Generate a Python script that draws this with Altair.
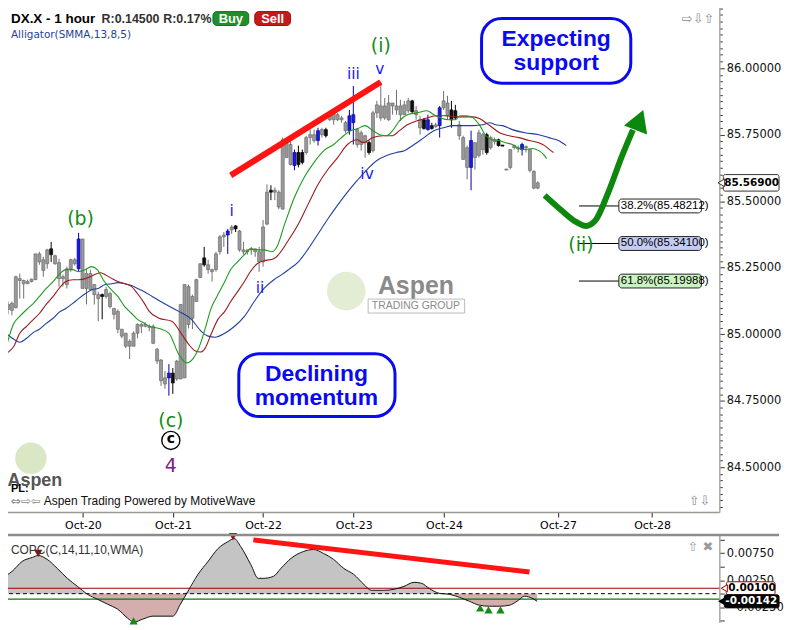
import altair as alt
import pandas as pd

# ---------------- data ----------------
opens = [85.093, 85.116, 85.100, 85.209, 85.202, 85.190, 85.198, 85.205, 85.302, 85.280,
         85.265, 85.321, 85.295, 85.269, 85.209, 85.187, 85.246, 85.280, 85.246, 85.358,
         85.172, 85.228, 85.187, 85.149, 85.149, 85.142, 85.153, 85.097, 85.086, 85.019,
         85.004, 84.955, 84.955, 85.004, 85.037, 85.030, 85.030, 85.030, 84.944, 84.903,
         84.836, 84.836, 84.854, 84.832, 84.832, 84.836, 85.179, 85.060, 85.123, 85.213,
         85.287, 85.261, 85.243, 85.243, 85.310, 85.366, 85.373, 85.392, 85.407, 85.388,
         85.317, 85.310, 85.317, 85.321, 85.310, 85.272, 85.414, 85.541, 85.534, 85.534,
         85.470, 85.720, 85.713, 85.634, 85.683, 85.683, 85.683, 85.739, 85.750, 85.728,
         85.750, 85.769, 85.806, 85.806, 85.825, 85.806, 85.795, 85.765, 85.795, 85.769,
         85.713, 85.746, 85.720, 85.690, 85.832, 85.858, 85.813, 85.806, 85.869, 85.858,
         85.858, 85.825, 85.840, 85.877, 85.840, 85.806, 85.806, 85.769, 85.784, 85.780,
         85.784, 85.851, 85.869, 85.843, 85.840, 85.787, 85.739, 85.701, 85.627, 85.720,
         85.672, 85.750, 85.750, 85.701, 85.731, 85.731, 85.711, 85.621, 85.627, 85.701,
         85.701, 85.694, 85.705, 85.694, 85.612, 85.549]
highs = [85.123, 85.123, 85.220, 85.228, 85.205, 85.205, 85.209, 85.302, 85.310, 85.291,
         85.321, 85.347, 85.299, 85.284, 85.224, 85.254, 85.284, 85.287, 85.381, 85.358,
         85.246, 85.243, 85.187, 85.160, 85.153, 85.179, 85.160, 85.097, 85.093, 85.019,
         85.004, 84.981, 85.011, 85.041, 85.041, 85.045, 85.037, 85.037, 84.948, 84.907,
         84.862, 84.888, 84.873, 84.903, 85.112, 85.187, 85.187, 85.149, 85.209, 85.265,
         85.328, 85.280, 85.246, 85.310, 85.373, 85.384, 85.396, 85.410, 85.410, 85.392,
         85.347, 85.317, 85.328, 85.321, 85.328, 85.429, 85.563, 85.560, 85.552, 85.541,
         85.739, 85.731, 85.728, 85.694, 85.709, 85.694, 85.746, 85.769, 85.769, 85.776,
         85.776, 85.776, 85.825, 85.840, 85.832, 85.821, 85.802, 85.843, 85.933, 85.776,
         85.765, 85.750, 85.728, 85.840, 85.877, 85.944, 85.888, 85.899, 85.869, 85.918,
         85.881, 85.877, 85.888, 85.881, 85.858, 85.821, 85.813, 85.825, 85.795, 85.795,
         85.858, 85.914, 85.896, 85.877, 85.862, 85.802, 85.746, 85.709, 85.765, 85.720,
         85.769, 85.757, 85.757, 85.746, 85.739, 85.735, 85.711, 85.621, 85.694, 85.713,
         85.709, 85.720, 85.709, 85.694, 85.616, 85.575]
lows = [85.075, 85.071, 85.097, 85.134, 85.134, 85.190, 85.195, 85.205, 85.261, 85.216,
        85.246, 85.272, 85.261, 85.179, 85.179, 85.172, 85.235, 85.258, 85.235, 85.172,
        85.112, 85.164, 85.112, 85.049, 85.056, 85.134, 85.097, 85.056, 85.004, 84.985,
        84.948, 84.907, 84.955, 84.985, 85.004, 85.026, 85.011, 84.963, 84.888, 84.806,
        84.795, 84.769, 84.776, 84.825, 84.832, 84.836, 85.022, 85.019, 85.123, 85.213,
        85.254, 85.228, 85.198, 85.235, 85.299, 85.328, 85.302, 85.377, 85.384, 85.310,
        85.299, 85.299, 85.299, 85.291, 85.235, 85.254, 85.410, 85.504, 85.504, 85.470,
        85.470, 85.664, 85.634, 85.616, 85.627, 85.638, 85.675, 85.713, 85.720, 85.709,
        85.739, 85.739, 85.802, 85.787, 85.802, 85.795, 85.757, 85.750, 85.713, 85.701,
        85.690, 85.664, 85.675, 85.683, 85.813, 85.802, 85.806, 85.802, 85.825, 85.825,
        85.802, 85.825, 85.832, 85.832, 85.806, 85.750, 85.769, 85.765, 85.769, 85.776,
        85.739, 85.843, 85.806, 85.776, 85.806, 85.731, 85.657, 85.582, 85.541, 85.619,
        85.664, 85.675, 85.675, 85.694, 85.713, 85.705, 85.707, 85.617, 85.619, 85.694,
        85.683, 85.672, 85.683, 85.608, 85.545, 85.545]
closes = [85.112, 85.090, 85.216, 85.202, 85.190, 85.198, 85.207, 85.302, 85.272, 85.240,
          85.317, 85.299, 85.265, 85.209, 85.216, 85.246, 85.280, 85.265, 85.358, 85.172,
          85.228, 85.168, 85.149, 85.134, 85.142, 85.168, 85.104, 85.075, 85.019, 84.993,
          84.955, 84.974, 85.004, 85.037, 85.030, 85.037, 85.026, 84.966, 84.899, 84.825,
          84.813, 84.854, 84.817, 84.899, 85.112, 85.187, 85.037, 85.142, 85.205, 85.265,
          85.261, 85.243, 85.235, 85.302, 85.366, 85.373, 85.388, 85.403, 85.396, 85.317,
          85.310, 85.317, 85.321, 85.310, 85.272, 85.403, 85.534, 85.534, 85.541, 85.478,
          85.731, 85.664, 85.638, 85.683, 85.638, 85.646, 85.739, 85.750, 85.728, 85.765,
          85.769, 85.746, 85.825, 85.832, 85.806, 85.813, 85.765, 85.821, 85.825, 85.713,
          85.757, 85.720, 85.683, 85.832, 85.862, 85.813, 85.858, 85.869, 85.858, 85.843,
          85.825, 85.862, 85.877, 85.836, 85.825, 85.776, 85.773, 85.806, 85.773, 85.787,
          85.851, 85.877, 85.821, 85.806, 85.813, 85.746, 85.657, 85.627, 85.728, 85.664,
          85.757, 85.694, 85.683, 85.739, 85.724, 85.709, 85.707, 85.617, 85.694, 85.709,
          85.696, 85.713, 85.701, 85.616, 85.549, 85.569]
black_bars = [11, 24, 42, 50, 58, 67, 74, 75, 81, 92, 103, 106, 108, 113, 114, 122, 125, 126]
blue_bars = [18, 41, 56, 73, 79, 87, 88, 107, 110, 118, 131]

# Alligator(SMMA,13,8,5): jaw (blue), teeth (red), lips (green) - bar position / price
jaw_pos = [-0.25, 1.5, 3, 4.75, 6.5, 8, 9.75, 11.5, 13, 14.75, 16.5, 18, 19.75, 21.5, 23, 24.75,
           26.5, 28, 29.75, 31.5, 33, 34.75, 36.75, 40.25, 43.5, 46.75, 49.25, 51, 52.75, 55.25,
           57.75, 60.25, 62.75, 65.25, 67.75, 69.75, 71.5, 74, 76.5, 79, 81.5, 84, 86.5, 89,
           91.5, 94, 96.5, 99, 101, 103.5, 106, 108.5, 111, 113.5, 116, 118.5, 121, 122.75,
           124.25, 126, 128.5, 131.75, 135.25, 137.75, 140.25, 142.25]
jaw_val = [85.000, 84.981, 84.970, 84.985, 85.007, 85.019, 85.041, 85.060, 85.082, 85.097,
           85.116, 85.134, 85.153, 85.168, 85.172, 85.187, 85.190, 85.194, 85.190, 85.183,
           85.172, 85.160, 85.142, 85.112, 85.086, 85.056, 85.011, 84.993, 84.989, 85.004,
           85.030, 85.067, 85.123, 85.172, 85.205, 85.224, 85.243, 85.272, 85.321, 85.377,
           85.433, 85.485, 85.534, 85.578, 85.619, 85.653, 85.672, 85.683, 85.690, 85.713,
           85.739, 85.765, 85.776, 85.784, 85.784, 85.784, 85.787, 85.795, 85.787, 85.784,
           85.769, 85.757, 85.750, 85.739, 85.728, 85.709]
teeth_pos = [-0.25, 1.5, 3, 4.75, 6.5, 8, 9.75, 11.5, 13, 14.75, 16.5, 18, 19.75, 21.5, 23.5,
             24.75, 26.5, 28, 29.75, 31.5, 33, 34.75, 36, 38.5, 41.75, 44.25, 46, 47.75, 49,
             50.25, 51.75, 53.5, 55.25, 56.75, 58.5, 60.25, 61.75, 63.5, 65.25, 67.75, 71.5,
             74, 76.5, 79, 81.5, 84, 86.5, 89, 90.5, 93, 95.5, 98, 99.75, 101.75, 104.25,
             106.75, 109.25, 111.75, 114.25, 116.75, 118.5, 120.25, 121.75, 123.5, 125.25,
             127.75, 130.25, 132.75, 135.25, 136.75, 138, 139]
teeth_val = [84.929, 84.955, 85.004, 85.030, 85.056, 85.078, 85.112, 85.142, 85.172, 85.198,
             85.205, 85.205, 85.209, 85.220, 85.231, 85.224, 85.209, 85.198, 85.190, 85.179,
             85.153, 85.116, 85.086, 85.060, 85.049, 85.000, 84.963, 84.937, 84.933, 84.948,
             85.000, 85.056, 85.086, 85.123, 85.160, 85.198, 85.235, 85.265, 85.276, 85.284,
             85.354, 85.414, 85.489, 85.563, 85.619, 85.664, 85.713, 85.731, 85.720, 85.739,
             85.746, 85.746, 85.765, 85.787, 85.802, 85.813, 85.821, 85.821, 85.817, 85.817,
             85.817, 85.810, 85.795, 85.776, 85.757, 85.746, 85.739, 85.728, 85.720, 85.709,
             85.694, 85.683]
lips_pos = [-0.25, 1.5, 3, 4.75, 6.5, 8, 9.75, 11.5, 13, 14.75, 16.5, 18, 19.75, 21.25, 22.75,
            24.25, 26, 28, 29.75, 31.5, 33, 34.75, 36, 38.5, 41, 43.5, 45.5, 47.25, 49, 50.25,
            51.75, 53.5, 55.25, 56.75, 58.5, 60.25, 61.75, 63.5, 65.25, 67.25, 68.5, 70.5, 73,
            75.5, 78, 80.5, 83, 85.5, 87.25, 89, 91, 93, 94.75, 96.5, 98, 99.75, 101.75,
            104.25, 106.75, 108.5, 110.25, 112.25, 114, 115.25, 116.75, 118.5, 120.25, 121.75,
            123.5, 125.25, 126.75, 128.5, 130.25, 131.75, 133.5, 135.25, 136.5, 137.25]
lips_val = [84.963, 85.041, 85.067, 85.093, 85.116, 85.142, 85.172, 85.198, 85.224, 85.243,
            85.243, 85.235, 85.243, 85.254, 85.243, 85.205, 85.172, 85.142, 85.104, 85.078,
            85.056, 85.041, 85.030, 85.022, 85.004, 84.925, 84.892, 84.910, 84.963, 85.022,
            85.097, 85.149, 85.198, 85.243, 85.272, 85.299, 85.321, 85.317, 85.317, 85.310,
            85.328, 85.414, 85.515, 85.590, 85.646, 85.690, 85.713, 85.746, 85.765, 85.772,
            85.784, 85.765, 85.750, 85.746, 85.765, 85.802, 85.825, 85.832, 85.840, 85.825,
            85.813, 85.806, 85.806, 85.821, 85.821, 85.813, 85.784, 85.746, 85.731, 85.728,
            85.720, 85.713, 85.698, 85.694, 85.698, 85.690, 85.675, 85.660]

# COPC(C,14,11,10,WMA) oscillator
copc_pos = [-0.25, 2.28, 4.8, 7.33, 8.84, 11.11, 13.64, 16.16, 18.69, 21.21, 23.74, 26.27, 28.79,
            31.32, 32.83, 35.1, 37.63, 40.15, 42.68, 44.57, 46.47, 48.99, 51.52, 54.04, 56.57,
            58.08, 59.72, 62.25, 64.14, 65.4, 67.93, 69.83, 72.35, 75.51, 78.03, 80.56, 83.08,
            85.61, 88.13, 90.66, 92.55, 95.71, 98.23, 100.76, 103.28, 105.18, 107.07, 109.6,
            112.12, 114.65, 117.17, 119.7, 122.22, 124.75, 127.27, 129.17, 131.06, 132.96, 134.22]
copc_val = [0.00289, 0.00413, 0.00597, 0.00670, 0.00707, 0.00634, 0.00468, 0.00284, 0.00136,
            -0.00011, -0.00103, -0.00195, -0.00287, -0.00453, -0.00527, -0.00471, -0.00416,
            -0.00416, -0.00416, -0.00195, 0.00044, 0.00357, 0.00597, 0.00836, 0.00965, 0.01020,
            0.00873, 0.00541, 0.00284, 0.00284, 0.00320, 0.00468, 0.00652, 0.00781, 0.00818,
            0.00744, 0.00634, 0.00468, 0.00357, 0.00173, 0.00063, 0.00063, 0.00081, 0.00136,
            0.00210, 0.00192, 0.00099, 0.00007, -0.00011, -0.00066, -0.00140, -0.00214,
            -0.00232, -0.00232, -0.00214, -0.00140, -0.00048, -0.00085, -0.00142]
copc_peak_pos = [8.84, 57.8]
copc_peak_val = [0.00745, 0.01055]
copc_trough_pos = [32.8, 119.9, 122.0, 125.0]
copc_trough_val = [-0.00505, -0.00265, -0.00300, -0.00300]
copc_upper = 0.001
copc_lower = -0.001
copc_last = -0.00142

date_pos = [19.1, 42.05, 65.0, 88.1, 111.1, 140.15, 164.15]
date_labels = ["Oct-20", "Oct-21", "Oct-22", "Oct-23", "Oct-24", "Oct-27", "Oct-28"]

fib_names = ["38.2%", "50.0%", "61.8%"]
fib_values = [85.48212, 85.34100, 85.19988]
last_price = 85.569

wave_text = ["(i)", "iii", "v", "i", "ii", "iv", "(b)", "(c)", "4", "(ii)"]
wave_bar = [95, 88, 94.75, 57, 64.25, 91.5, 18.5, 41.5, 41.5, 146]
wave_price = [86.082, 85.978, 85.996, 85.463, 85.172, 85.601, 85.433, 84.675, 84.504, 85.336]
wave_degree = ["minor", "minute", "minute", "minute", "minute", "minute", "minor", "minor",
               "intermediate", "minor"]
circled_bar = [41.5]
circled_price = [84.601]

trend_bar = [56.75, 95.0]
trend_price = [85.597, 85.948]
copc_trend_bar = [62.9, 132.3]
copc_trend_val = [0.00996, 0.00400]

arrow_bar = [136.75, 141, 144.75, 147.25, 149.75, 153, 156.5, 159.25]
arrow_price = [85.522, 85.466, 85.422, 85.407, 85.429, 85.534, 85.671, 85.768]
arrow_head_bar = [160.9]
arrow_head_price = [85.805]

# ---------------- chart ----------------
FONT = "DejaVu Sans"
SANS = "Liberation Sans"
W = 721
X = alt.Scale(domain=[-0.25, 180.0], nice=False, zero=False)
Y = alt.Scale(domain=[84.332, 86.2425], nice=False, zero=False)
YL = alt.Scale(domain=[-0.00532, 0.01088], nice=False, zero=False)

n = len(opens)
kinds = ["black" if i in black_bars else ("blue" if i in blue_bars else "gray") for i in range(n)]
candles = pd.DataFrame({"bar": list(range(n)), "open": opens, "high": highs, "low": lows,
                        "close": closes, "kind": kinds})

one = pd.DataFrame({"k": [0]})

date_expr = ""
for p, l in zip(date_pos, date_labels):
    date_expr += f"abs(datum.value - {p}) < 0.01 ? '{l}' : "
date_expr += "''"

price_ticks = [round(84.35 + 0.025 * k, 3) for k in range(76)]
major = "abs(datum.value * 4 - round(datum.value * 4)) < 0.001"

x_axis = alt.Axis(values=date_pos, labelExpr=date_expr, title=None, grid=False, tickSize=5,
                  tickColor="#222222", domainColor="#9a9a92", domainWidth=1.5,
                  labelFont=FONT, labelFontSize=11,
                  labelColor="#000000", labelPadding=3, labelFlush=False, labelOverlap=False)
y_axis = alt.Axis(orient="right", values=price_ticks,
                  labelExpr=f"{major} ? format(datum.value, '.5f') : ''",
                  tickSize={"condition": {"test": major, "value": 5}, "value": 3},
                  title=None, grid=False, domainColor="#a8a8a0", domainWidth=1.5, tickColor="#333333",
                  labelFont=FONT, labelFontSize=11.5, labelColor="#111111", labelPadding=2,
                  labelOverlap=False, labelFlush=False)

low_ticks = [-0.005, -0.0025, 0.0, 0.0025, 0.005, 0.0075, 0.01]
lab_test = "abs((round(datum.value * 10000) + 25) % 50) < 1"
ly_axis = alt.Axis(orient="right", values=low_ticks,
                   labelExpr=f"{lab_test} ? format(datum.value, '.5f') : ''",
                   tickSize=5, title=None, grid=False, domainColor="#a8a8a0", domainWidth=1.5,
                   tickColor="#333333",
                   labelFont=FONT, labelFontSize=11.5, labelColor="#111111", labelPadding=2,
                   labelOverlap=False, labelFlush=False)


def MX(f):
    return alt.X(f, scale=X, axis=x_axis)


def MY(f):
    return alt.Y(f, scale=Y, axis=y_axis)


def LX(f):
    return alt.X(f, scale=X, axis=None)


def LY(f):
    return alt.Y(f, scale=YL, axis=ly_axis)


def vtext(txt, x, y, size, color="#000000", weight="normal", align="left", font=FONT):
    return alt.Chart(one).mark_text(text=txt, fontSize=size, color=color, fontWeight=weight,
                                    align=align, baseline="middle", font=font).encode(
        x=alt.value(x), y=alt.value(y))


def vrect(x1, x2, y1, y2, fill, stroke, sw=1.0, r=0, fo=1.0):
    return alt.Chart(one).mark_rect(fill=fill, fillOpacity=fo, stroke=stroke, strokeWidth=sw,
                                    cornerRadius=r).encode(
        x=alt.value(x1), x2=alt.value(x2), y=alt.value(y1), y2=alt.value(y2))


kind_dom = ["gray", "black", "blue"]
wicks = alt.Chart(candles).mark_rule(strokeWidth=1).encode(
    x=MX("bar:Q"), y=MY("low:Q"), y2="high:Q",
    color=alt.Color("kind:N", scale=alt.Scale(domain=kind_dom, range=["#707070", "#000000", "#0000a8"]),
                    legend=None))
bodies = alt.Chart(candles).mark_bar(size=3, strokeWidth=0.7).encode(
    x=MX("bar:Q"), y=MY("open:Q"), y2="close:Q",
    fill=alt.Fill("kind:N", scale=alt.Scale(domain=kind_dom, range=["#9a9a9a", "#111111", "#1c1cd8"]),
                  legend=None),
    stroke=alt.Stroke("kind:N", scale=alt.Scale(domain=kind_dom, range=["#6c6c6c", "#000000", "#0000a8"]),
                      legend=None))


def gline(pos, val, color, width=1.1, interp="monotone"):
    df = pd.DataFrame({"bar": pos, "v": val})
    return alt.Chart(df).mark_line(color=color, strokeWidth=width, interpolate=interp).encode(
        x=MX("bar:Q"), y=MY("v:Q"))


jaw = gline(jaw_pos, jaw_val, "#203f9e")
teeth = gline(teeth_pos, teeth_val, "#9c1b1b")
lips = gline(lips_pos, lips_val, "#1e9a1e")

# Fibonacci levels
fib_df = pd.DataFrame({"name": fib_names, "v": fib_values})
fib_df["label"] = [f"{a}({b:.5f})" for a, b in zip(fib_names, fib_values)]
fib_rules = alt.Chart(fib_df).mark_rule(color="#000000", strokeWidth=1).encode(
    x=alt.value(580), x2=alt.value(620), y=MY("v:Q"))
fib_fills = ["#ffffff", "#c4ccf4", "#caf3c2"]
fib_boxes = [
    alt.Chart(fib_df.iloc[[i]]).transform_calculate(
        lo="datum.v - 0.026", hi="datum.v + 0.026").mark_rect(
        fill=fib_fills[i], stroke="#222222", strokeWidth=1, cornerRadius=3).encode(
        x=alt.value(620), x2=alt.value(703), y=MY("lo:Q"), y2="hi:Q")
    for i in range(len(fib_names))
]
fib_text = alt.Chart(fib_df).mark_text(align="left", baseline="middle", font=SANS, fontSize=11.5,
                                       color="#000000").encode(
    x=alt.value(622), y=MY("v:Q"), text="label:N")

# wave labels
wave_df = pd.DataFrame({"t": wave_text, "bar": wave_bar, "p": wave_price, "deg": wave_degree})
deg_style = {"minor": ("#148c14", 19), "minute": ("#1a1af0", 15.5), "intermediate": ("#7a237a", 19)}
wave_layers = []
for deg, (col, sz) in deg_style.items():
    sub = wave_df[wave_df["deg"] == deg]
    wave_layers.append(alt.Chart(sub).mark_text(font=FONT, baseline="middle", align="center",
                                                color=col, fontSize=sz).encode(
        x=MX("bar:Q"), y=MY("p:Q"), text="t:N"))
circ_df = pd.DataFrame({"bar": circled_bar, "p": circled_price})
circ = alt.Chart(circ_df).mark_point(shape="circle", size=330, filled=False, color="#000000",
                                     strokeWidth=1.4, opacity=1).encode(x=MX("bar:Q"), y=MY("p:Q"))
circ_t = alt.Chart(circ_df).mark_text(text="c", font=FONT, fontSize=14, fontWeight="bold",
                                      color="#000000", baseline="middle", dy=-1).encode(
    x=MX("bar:Q"), y=MY("p:Q"))

trend = gline(trend_bar, trend_price, "#ff1414", width=6, interp="linear")
arrow = gline(arrow_bar, arrow_price, "#0d870d", width=6)
arrow_head = alt.Chart(pd.DataFrame({"bar": arrow_head_bar, "p": arrow_head_price})).mark_point(
    shape="triangle-up", size=620, filled=True, color="#0d870d", opacity=1, angle=21).encode(
    x=MX("bar:Q"), y=MY("p:Q"))

# current price tag
tag_df = pd.DataFrame({"p": [last_price]})
tag_box = alt.Chart(tag_df).transform_calculate(lo="datum.p - 0.031", hi="datum.p + 0.031").mark_rect(
    fill="#ffffff", stroke="#333333", strokeWidth=1, cornerRadius=2).encode(
    x=alt.value(725), x2=alt.value(781), y=MY("lo:Q"), y2="hi:Q")
tag_arrow = alt.Chart(tag_df).mark_point(shape="triangle-left", size=60, filled=True,
                                         color="#ffffff", stroke="#333333", strokeWidth=1,
                                         opacity=1).encode(x=alt.value(723), y=MY("p:Q"))
tag_text = alt.Chart(tag_df).mark_text(align="left", baseline="middle", font=FONT, fontSize=10.5,
                                       fontWeight="bold", color="#000000").encode(
    x=alt.value(726), y=MY("p:Q"), text=alt.value("85.56900"))

main_layers = [
    # watermarks
    alt.Chart(one).mark_point(shape="circle", size=1500, filled=True, color="#e3edd4", opacity=1).encode(
        x=alt.value(346), y=alt.value(289)),
    vtext("Aspen", 416, 284, 25, "#8a8a8a", "bold", "center", SANS),
    vrect(368, 465, 297, 311, "#ffffff", "#bbbbbb", 1, 0, 0),
    vtext("TRADING GROUP", 416, 304, 10.5, "#8a8a8a", "normal", "center", SANS),
    alt.Chart(one).mark_point(shape="circle", size=1000, filled=True, color="#d9e7c4", opacity=1).encode(
        x=alt.value(29), y=alt.value(457)),
    vtext("Aspen", 33, 480, 18, "#555555", "bold", "center", SANS),
    wicks, bodies, jaw, teeth, lips,
    fib_rules, *fib_boxes, fib_text,
    trend, arrow, arrow_head,
    *wave_layers, circ, circ_t,
    # text boxes
    vrect(482, 632, 15, 80, "#ffffff", "#0a0af0", 3, 20),
    vtext("Expecting", 557, 36, 23, "#0a0af0", "bold", "center", SANS),
    vtext("support", 557, 60, 23, "#0a0af0", "bold", "center", SANS),
    vrect(238, 395, 352, 415, "#ffffff", "#0a0af0", 3, 20),
    vtext("Declining", 316, 372, 23, "#0a0af0", "bold", "center", SANS),
    vtext("momentum", 316, 396, 23, "#0a0af0", "bold", "center", SANS),
    # header (kept below the 8px page margin)
    vtext("DX.X - 1 hour", 9, 15, 13.5, "#000000", "bold", "left", SANS),
    vtext("R:0.14500", 100, 15, 12.5, "#333333", "bold", "left", SANS),
    vtext("R:0.17%", 162, 15, 12.5, "#333333", "bold", "left", SANS),
    vrect(212, 248, 8, 22, "#1f8f2a", "#17701f", 1, 4),
    vtext("Buy", 230, 15, 13, "#ffffff", "bold", "center", SANS),
    vrect(254, 290, 8, 22, "#c41a1a", "#9a1010", 1, 4),
    vtext("Sell", 272, 15, 13, "#ffffff", "bold", "center", SANS),
    vtext("Alligator(SMMA,13,8,5)", 9, 32, 10.5, "#23439a", "normal", "left", FONT),
    vtext("\u21e8\u21e9\u21e7", 716, 15, 13, "#8c8c8c", "normal", "right", FONT),
    # footer
    vtext("PL:", 9, 488, 11, "#000000", "bold", "left", SANS),
    vtext("\u21d4\u21e8\u21e6", 9, 500, 12, "#8c8c8c", "normal", "left", FONT),
    vtext("Aspen Trading Powered by MotiveWave", 42, 500, 12, "#111111", "normal", "left", SANS),
    vtext("\u21e7\u21e9", 712, 500, 13, "#8c8c8c", "normal", "right", FONT),
    tag_box, tag_arrow, tag_text,
]
main = alt.layer(*main_layers).properties(width=W, height=511)

# ---------------- lower panel ----------------
copc = pd.DataFrame({"bar": copc_pos, "v": copc_val})
lbase = alt.Chart(copc).transform_calculate(pos="max(datum.v, 0)", neg="min(datum.v, 0)")
area_pos = lbase.mark_area(color="#c4c4c4", interpolate="monotone", opacity=1).encode(
    x=LX("bar:Q"), y=LY("pos:Q"), y2=alt.datum(0))
area_neg = lbase.mark_area(color="#d4adad", interpolate="monotone", opacity=1).encode(
    x=LX("bar:Q"), y=LY("neg:Q"), y2=alt.datum(0))
copc_line = alt.Chart(copc).mark_line(color="#111111", strokeWidth=1, interpolate="monotone").encode(
    x=LX("bar:Q"), y=LY("v:Q"))

up_rule = alt.Chart(pd.DataFrame({"v": [copc_upper]})).mark_rule(strokeWidth=1.2, color="#a00000").encode(
    y=LY("v:Q"), x=alt.value(0), x2=alt.value(W))
dn_rule = alt.Chart(pd.DataFrame({"v": [copc_lower]})).mark_rule(strokeWidth=1.2, color="#0a7a0a").encode(
    y=LY("v:Q"), x=alt.value(0), x2=alt.value(W))
zero = alt.Chart(pd.DataFrame({"v": [0.0]})).mark_rule(strokeWidth=1, color="#000000",
                                                       strokeDash=[4, 3]).encode(
    y=LY("v:Q"), x=alt.value(0), x2=alt.value(W))

peaks = alt.Chart(pd.DataFrame({"bar": copc_peak_pos, "v": copc_peak_val})).mark_point(
    shape="triangle-down", size=70, filled=True, color="#8a1010", opacity=1).encode(
    x=LX("bar:Q"), y=LY("v:Q"))
troughs = alt.Chart(pd.DataFrame({"bar": copc_trough_pos, "v": copc_trough_val})).mark_point(
    shape="triangle-up", size=70, filled=True, color="#168a16", opacity=1).encode(
    x=LX("bar:Q"), y=LY("v:Q"))

copc_trend = alt.Chart(pd.DataFrame({"bar": copc_trend_bar, "v": copc_trend_val})).mark_line(
    color="#ff1414", strokeWidth=5).encode(x=LX("bar:Q"), y=LY("v:Q"))

sep = alt.Chart(one).mark_rule(color="#8c8c8c", strokeWidth=2.5).encode(
    x=alt.value(0), x2=alt.value(781), y=alt.value(0))

ltag_df = pd.DataFrame({"v": [copc_upper], "t": ["0.00100"]})
ltag_box = alt.Chart(ltag_df).transform_calculate(lo="datum.v - 0.0012", hi="datum.v + 0.0012").mark_rect(
    fill="#ffffff", stroke="#a00000", strokeWidth=1, cornerRadius=2).encode(
    x=alt.value(728), x2=alt.value(777), y=LY("lo:Q"), y2="hi:Q")
ltag_arrow = alt.Chart(ltag_df).mark_point(shape="triangle-left", size=50, filled=True,
                                           color="#ffffff", stroke="#a00000", strokeWidth=1,
                                           opacity=1).encode(x=alt.value(726), y=LY("v:Q"))
ltag_text = alt.Chart(ltag_df).mark_text(align="left", baseline="middle", font=FONT, fontSize=10.5,
                                         fontWeight="bold", color="#000000").encode(
    x=alt.value(730), y=LY("v:Q"), text="t:N")
vtag_df = pd.DataFrame({"v": [copc_last]})
vtag_box = alt.Chart(vtag_df).transform_calculate(lo="datum.v - 0.0012", hi="datum.v + 0.0012").mark_rect(
    fill="#000000", stroke="#000000", strokeWidth=1, cornerRadius=2).encode(
    x=alt.value(726), x2=alt.value(781), y=LY("lo:Q"), y2="hi:Q")
vtag_arrow = alt.Chart(vtag_df).mark_point(shape="triangle-left", size=60, filled=True,
                                           color="#000000", opacity=1).encode(
    x=alt.value(723), y=LY("v:Q"))
vtag_text = alt.Chart(vtag_df).mark_text(align="left", baseline="middle", font=FONT, fontSize=10.5,
                                         fontWeight="bold", color="#ffffff").encode(
    x=alt.value(727), y=LY("v:Q"), text=alt.value("-0.00142"))

lower = alt.layer(
    area_pos, area_neg, up_rule, dn_rule, zero, copc_line, peaks, troughs, copc_trend, sep,
    vtext("COPC(C,14,11,10,WMA)", 9, 15, 12, "#333333", "normal", "left", SANS),
    vtext("\u21e7 \u2716", 715, 12, 13, "#9a9a9a", "normal", "right", FONT),
    ltag_box, ltag_arrow, ltag_text, vtag_box, vtag_arrow, vtag_text,
).properties(width=W, height=88)

chart = alt.vconcat(main, lower, spacing=-2).properties(
    padding={"left": -8, "top": -8, "right": 0, "bottom": 0},
    background="#ffffff",
).configure_view(stroke=None)

chart.save("out.html", embed_options={"renderer": "svg", "actions": False})
